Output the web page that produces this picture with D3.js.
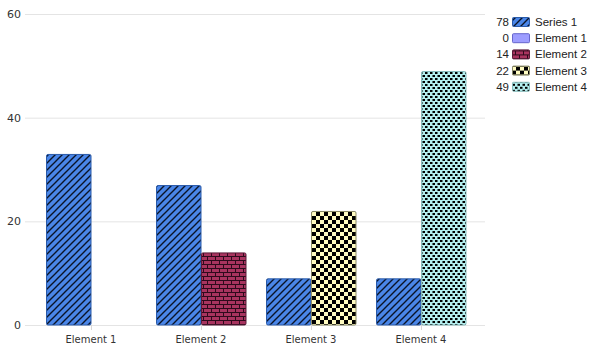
<!DOCTYPE html>
<html>
<head>
<meta charset="utf-8">
<script src="https://d3js.org/d3.v7.min.js"></script>
<style>
    body {
        margin: 0;
        background-color: white;
        font-family: "DejaVu Sans", sans-serif;
    }

    svg {
        display: block;
    }
</style>
</head>
<body>
<svg></svg>
<script>
    const categories = ["Element 1", "Element 2", "Element 3", "Element 4"];
    const series1 = [33, 27, 9, 9];
    const elementValues = [0, 14, 22, 49];
    const legendNames = ["Series 1", "Element 1", "Element 2", "Element 3", "Element 4"];
    const legendTotals = [78, 0, 14, 22, 49];
    const yTicks = [0, 20, 40, 60];

    function createVis() {
        let width = 592;
        let height = 351;
        let svg = d3.select("svg")
            .attr("width", width)
            .attr("height", height);

        let defs = svg.append("defs");

        // diagonal stripes for series 1
        let stripe = defs.append("pattern")
            .attr("id", "pat0")
            .attr("patternUnits", "userSpaceOnUse")
            .attr("width", 7).attr("height", 7);
        stripe.append("rect").attr("width", 7).attr("height", 7).attr("fill", "#4a86e8");
        stripe.append("path")
            .attr("d", "M-1,8 L8,-1 M-4,4 L4,-4 M3,11 L11,3")
            .attr("stroke", "#0a1428").attr("stroke-width", 1.4);

        // plain lavender for element 1
        let plain = defs.append("pattern")
            .attr("id", "pat1")
            .attr("patternUnits", "userSpaceOnUse")
            .attr("width", 4).attr("height", 4);
        plain.append("rect").attr("width", 4).attr("height", 4).attr("fill", "#9d9dff");

        // bricks
        let brick = defs.append("pattern")
            .attr("id", "pat2")
            .attr("patternUnits", "userSpaceOnUse")
            .attr("width", 8).attr("height", 8);
        brick.append("rect").attr("width", 8).attr("height", 8).attr("fill", "#2e0a1c");
        brick.append("rect").attr("x", 0).attr("y", 1).attr("width", 7).attr("height", 3).attr("fill", "#a8345f");
        brick.append("rect").attr("x", -4).attr("y", 5).attr("width", 7).attr("height", 3).attr("fill", "#a8345f");
        brick.append("rect").attr("x", 4).attr("y", 5).attr("width", 7).attr("height", 3).attr("fill", "#a8345f");

        // checkerboard
        let check = defs.append("pattern")
            .attr("id", "pat3")
            .attr("patternUnits", "userSpaceOnUse")
            .attr("width", 8).attr("height", 8);
        check.append("rect").attr("width", 8).attr("height", 8).attr("fill", "#fffbc0");
        check.append("rect").attr("width", 4).attr("height", 4).attr("fill", "black");
        check.append("rect").attr("x", 4).attr("y", 4).attr("width", 4).attr("height", 4).attr("fill", "black");

        // dots
        let dots = defs.append("pattern")
            .attr("id", "pat4")
            .attr("patternUnits", "userSpaceOnUse")
            .attr("width", 5).attr("height", 6);
        dots.append("rect").attr("width", 5).attr("height", 6).attr("fill", "#b3eeee");
        dots.append("rect").attr("x", 0).attr("y", 0).attr("width", 2.5).attr("height", 2).attr("fill", "black");
        dots.append("rect").attr("x", 2.5).attr("y", 3).attr("width", 2.5).attr("height", 2).attr("fill", "black");

        const strokes = ["#2a5aa8", "#6666cc", "#5a1a38", "#888866", "#88bbbb"];

        let xScale = d3.scaleBand()
            .domain(categories)
            .range([36, 476])
            .paddingInner(0)
            .paddingOuter(0);

        let subScale = d3.scaleBand()
            .domain([0, 1])
            .range([10, xScale.bandwidth() - 10]);

        let yScale = d3.scaleLinear()
            .domain([0, 60])
            .range([325, 14]);

        // gridlines and y labels
        svg.selectAll(".grid")
            .data(yTicks)
            .join("line")
            .attr("class", "grid")
            .attr("x1", 25).attr("x2", 485)
            .attr("y1", d => yScale(d) + 0.5)
            .attr("y2", d => yScale(d) + 0.5)
            .attr("stroke", "#e4e4e4");

        svg.selectAll(".ylab")
            .data(yTicks)
            .join("text")
            .attr("class", "ylab")
            .attr("x", 21)
            .attr("y", d => yScale(d) + 4)
            .attr("text-anchor", "end")
            .attr("font-size", 11)
            .attr("fill", "#333")
            .text(d => d);

        // x ticks
        svg.selectAll(".xtick")
            .data(categories)
            .join("line")
            .attr("class", "xtick")
            .attr("x1", d => xScale(d) + xScale.bandwidth() / 2 + 0.5)
            .attr("x2", d => xScale(d) + xScale.bandwidth() / 2 + 0.5)
            .attr("y1", 325).attr("y2", 330)
            .attr("stroke", "#d8d8d8");

        svg.selectAll(".xlab")
            .data(categories)
            .join("text")
            .attr("class", "xlab")
            .attr("x", d => xScale(d) + xScale.bandwidth() / 2)
            .attr("y", 343)
            .attr("text-anchor", "middle")
            .attr("font-size", 10)
            .attr("fill", "#333")
            .text(d => d);

        // bars
        let bars = [];
        categories.forEach((c, i) => {
            bars.push({cat: c, sub: 0, value: series1[i], pat: 0});
            bars.push({cat: c, sub: 1, value: elementValues[i], pat: i + 1});
        });

        svg.selectAll(".bar")
            .data(bars.filter(d => d.value > 0))
            .join("rect")
            .attr("class", "bar")
            .attr("x", d => xScale(d.cat) + subScale(d.sub) + 0.5)
            .attr("y", d => yScale(d.value) + 0.5)
            .attr("width", subScale.bandwidth() - 0.5)
            .attr("height", d => yScale(0) - yScale(d.value) - 0.5)
            .attr("rx", 1.5)
            .attr("fill", d => `url(#pat${d.pat})`)
            .attr("stroke", d => strokes[d.pat])
            .attr("stroke-width", 1);

        // legend
        let legend = svg.selectAll(".legend")
            .data(legendNames)
            .join("g")
            .attr("class", "legend")
            .attr("transform", (d, i) => `translate(0, ${22 + i * 16.2})`);

        legend.append("text")
            .attr("x", 509)
            .attr("y", 4)
            .attr("text-anchor", "end")
            .attr("font-family", "Liberation Sans, Arial, sans-serif")
            .attr("font-size", 11.5)
            .attr("fill", "#222")
            .text((d, i) => legendTotals[i]);

        legend.append("rect")
            .attr("x", 512.5)
            .attr("y", -4.5)
            .attr("width", 17)
            .attr("height", 9)
            .attr("rx", 1)
            .attr("fill", (d, i) => `url(#pat${i})`)
            .attr("stroke", (d, i) => strokes[i]);

        legend.append("text")
            .attr("x", 535)
            .attr("y", 4)
            .attr("font-family", "Liberation Sans, Arial, sans-serif")
            .attr("font-size", 11.5)
            .attr("fill", "#222")
            .text(d => d);
    }
    createVis();
</script>
</body>
</html>
